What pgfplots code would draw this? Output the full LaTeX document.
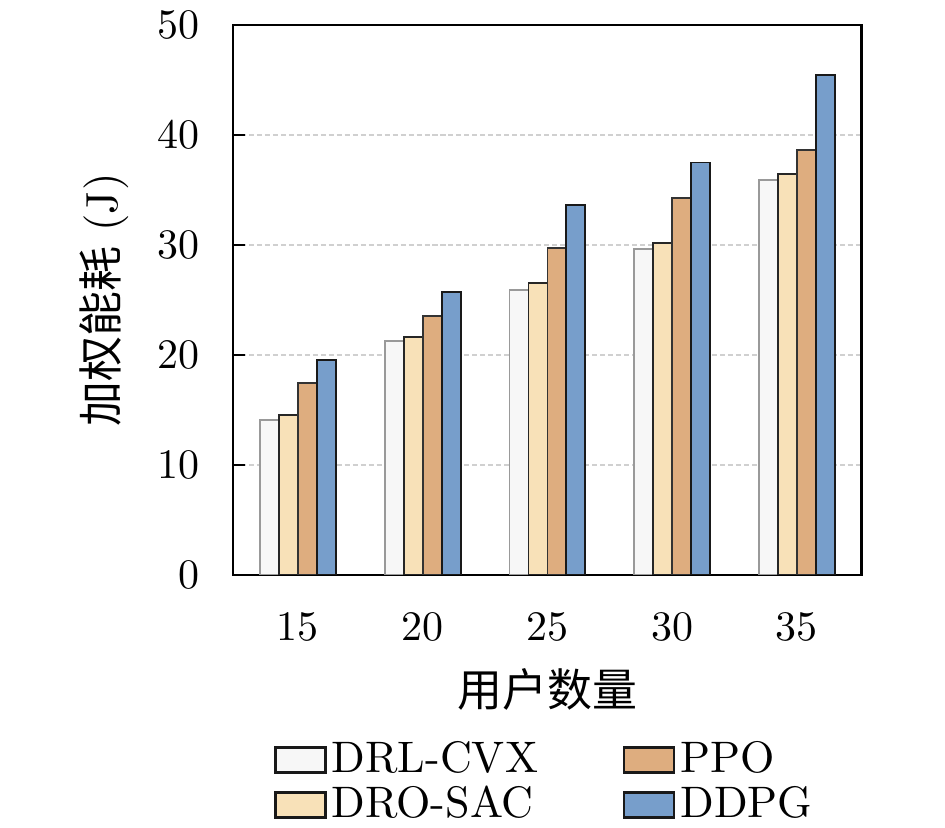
\documentclass[border=0pt]{standalone}
\usepackage{fontspec}
\usepackage{pgfplots}
\pgfplotsset{compat=1.18}
\newfontfamily\cjk{Noto Sans CJK SC}
\definecolor{cA}{HTML}{F7F7F7}
\definecolor{cB}{HTML}{F8E1B8}
\definecolor{cC}{HTML}{DEAD7F}
\definecolor{cD}{HTML}{779ECB}
\definecolor{gridc}{HTML}{D0D0D0}
\begin{document}
\begin{tikzpicture}
\useasboundingbox (-55.45pt,-60.2pt) rectangle (169.5pt,136.85pt);
\begin{axis}[
  at={(0pt,0pt)}, anchor=south west,
  scale only axis,
  width=149.7pt, height=130.9pt,
  ybar=0pt, bar width=0.152,
  xmin=-0.521, xmax=4.52,
  ymin=0, ymax=50,
  xtick={0,1,2,3,4},
  xticklabels={15,20,25,30,35},
  ytick={0,10,20,30,40,50},
  xtick style={draw=none},
  ytick pos=left,
  tick align=inside,
  major tick length=2.9pt,
  axis line style={line width=0.64pt},
  every tick/.style={line width=0.64pt, black},
  ymajorgrids,
  grid style={gridc, line width=0.35pt, dash pattern=on 1.2pt off 0.7pt},
  yticklabel style={xshift=-4.5pt},
  xticklabel style={yshift=-5.5pt},
  tick label style={font=\fontsize{10}{12}\selectfont},
  xlabel={\cjk 用户数量},
  ylabel={{\cjk 加权能耗} (J)},
  label style={font=\fontsize{10.7}{12}\selectfont},
  xlabel style={at={(axis description cs:0.5,-0.209)}, anchor=center},
  ylabel style={at={(axis description cs:-0.204,0.5)}, anchor=center},
  legend style={draw=none, fill=none, at={(6.6pt,-36.5pt)}, anchor=north west,
    font=\fontsize{10.5}{12}\selectfont,
    nodes={inner xsep=1.2pt, inner ysep=0.9pt},
    /tikz/every even column/.append style={column sep=19pt},
    row sep=0pt},
  legend columns=2,
  transpose legend,
  legend cell align=left,
  legend image code/.code={\draw[#1, draw=black!90, line width=0.6pt] (0pt,-2.97pt) rectangle (11.9pt,2.97pt);},
]
\addplot[fill=cA, draw=gray!80, line width=0.45pt] coordinates {(0,14.1) (1,21.3) (2,25.9) (3,29.6) (4,35.9)};
\addplot[fill=cB, draw=black!85, line width=0.45pt] coordinates {(0,14.5) (1,21.6) (2,26.5) (3,30.2) (4,36.45)};
\addplot[fill=cC, draw=black!80, line width=0.45pt] coordinates {(0,17.45) (1,23.5) (2,29.7) (3,34.3) (4,38.6)};
\addplot[fill=cD, draw=black!90, line width=0.45pt] coordinates {(0,19.5) (1,25.7) (2,33.6) (3,37.5) (4,45.45)};
\legend{DRL-CVX,DRO-SAC,PPO,DDPG}
\end{axis}
\end{tikzpicture}
\end{document}
